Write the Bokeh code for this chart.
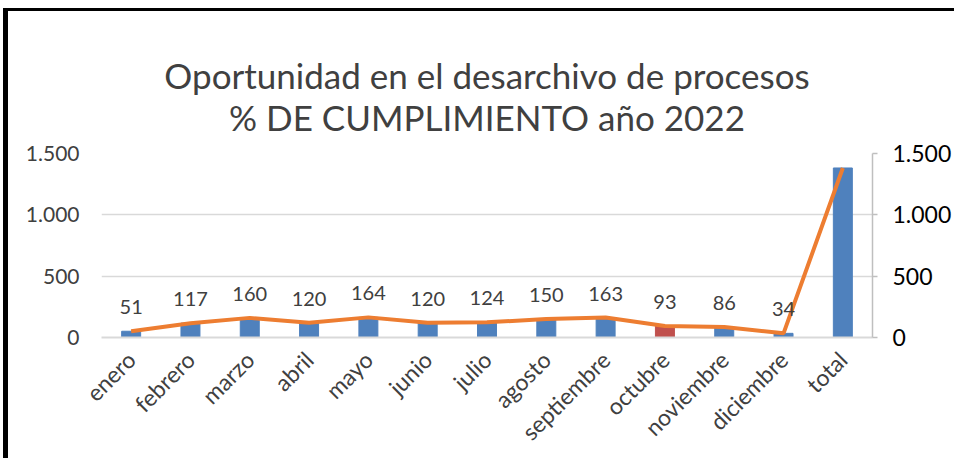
from bokeh.plotting import figure
from bokeh.layouts import column
from bokeh.models import (ColumnDataSource, LabelSet, LinearAxis, Range1d, FixedTicker,
                          CustomJSTickFormatter, Title, FactorRange)
from bokeh.core.properties import value
from bokeh.embed import file_html
from bokeh.resources import INLINE
import math

months = ["enero", "febrero", "marzo", "abril", "mayo", "junio", "julio", "agosto",
          "septiembre", "octubre", "noviembre", "diciembre", "total"]
values = [51, 117, 160, 120, 164, 120, 124, 150, 163, 93, 86, 34, 1382]
highlight = "octubre"
y_ticks = [0, 500, 1000, 1500]

FONT = "Lato"
GREY = "#404040"

labels = [f"{v:,}".replace(",", ".") for v in values]
colors = ["#C0504D" if m == highlight else "#4F81BD" for m in months]
src = ColumnDataSource(dict(x=months, top=values, lab=labels, color=colors))

p = figure(frame_width=771, frame_height=184, x_range=FactorRange(*months), y_range=Range1d(0, 1500),
           output_backend="svg", toolbar_location=None,
           min_border_left=93, min_border_right=79, min_border_top=142, min_border_bottom=105)
p.outline_line_color = None
p.background_fill_color = "white"

p.vbar(x="x", top="top", width=0.32, color="color", source=src)
p.line(x="x", y="top", line_color="#ED7D31", line_width=4, source=src)

p.add_layout(LabelSet(x="x", y="top", text="lab", source=src, y_offset=17,
                      text_align="center", text_baseline="bottom",
                      text_font=value(FONT), text_font_size="20px", text_color=GREY))

fmt = CustomJSTickFormatter(code="""
if (tick >= 1000) { return Math.floor(tick/1000) + '.' + String(tick % 1000).padStart(3, '0'); }
return String(tick);
""")

# left axis
la = p.yaxis[0]
la.ticker = FixedTicker(ticks=y_ticks)
la.formatter = fmt
la.axis_line_color = None
la.major_tick_line_color = None
la.minor_tick_line_color = None
la.major_tick_out = 0
la.major_tick_in = 0
la.minor_tick_out = 0
la.major_label_text_font = FONT
la.major_label_text_font_size = "21px"
la.major_label_text_color = GREY
la.major_label_standoff = 22

# right axis
p.extra_y_ranges = {"right": Range1d(0, 1500)}
ra = LinearAxis(y_range_name="right", ticker=FixedTicker(ticks=y_ticks), formatter=fmt)
ra.axis_line_color = "#BFBFBF"
ra.axis_line_width = 1.5
ra.major_tick_line_color = "#BFBFBF"
ra.major_tick_line_width = 1.5
ra.major_tick_in = 0
ra.major_tick_out = 5
ra.minor_tick_line_color = None
ra.minor_tick_out = 0
ra.major_label_text_font = FONT
ra.major_label_text_font_size = "23px"
ra.major_label_text_color = "black"
ra.major_label_standoff = 15
p.add_layout(ra, "right")

# x axis
xa = p.xaxis[0]
xa.axis_line_color = "#D9D9D9"
xa.axis_line_width = 2
xa.major_tick_line_color = None
xa.minor_tick_line_color = None
xa.major_tick_out = 0
xa.major_label_orientation = math.pi / 4
xa.major_label_text_font = FONT
xa.major_label_text_font_size = "23px"
xa.major_label_text_color = GREY
xa.major_label_standoff = 18

p.xgrid.grid_line_color = None
p.ygrid.grid_line_color = "#D9D9D9"
p.ygrid.grid_line_width = 1.5
p.ygrid.ticker = FixedTicker(ticks=y_ticks)

p.title = None
t = Title(text="Oportunidad en el desarchivo de procesos\n% DE CUMPLIMIENTO año 2022",
          align="center", text_align="center", text_font=FONT, text_font_size="35px",
          text_font_style="normal", text_color=GREY, standoff=32, text_line_height=1.0)
p.add_layout(t, "above")

page = column(p, styles={"border-left": "5px solid black", "border-top": "3px solid black",
                         "margin-top": "8px", "margin-left": "3px"})

open("out.html", "w").write(file_html(page, INLINE))
